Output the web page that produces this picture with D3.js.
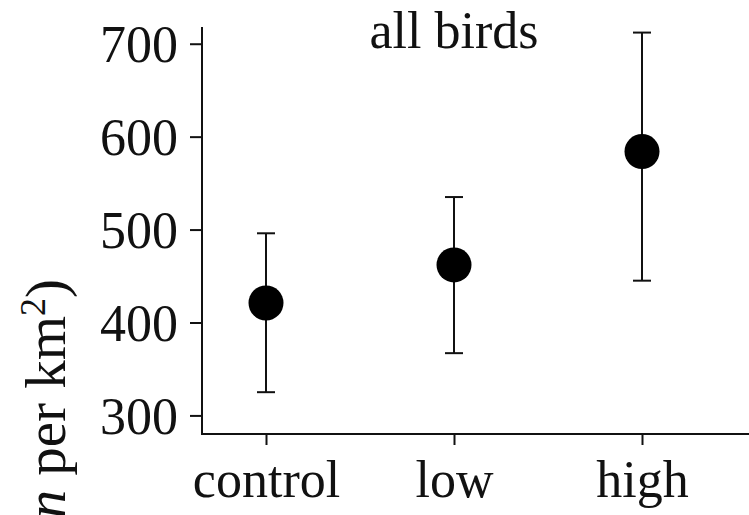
<!DOCTYPE html>
<meta charset="utf-8">
<title>all birds</title>
<style>
  body { margin: 0; background: #fff; }
  svg { display: block; font-family: "Liberation Serif", "Times New Roman", serif; }
</style>
<body>
<script src="https://cdn.jsdelivr.net/npm/d3@7"></script>
<script>
// data
var groups = ["control", "low", "high"];
var means  = [421, 462, 584];
var upper  = [496, 535, 712];
var lower  = [325, 367, 445];
var yTicks = [300, 400, 500, 600, 700];

var width = 749,
    height = 515;

var svg = d3.select("body").append("svg")
    .attr("width", width)
    .attr("height", height);

var x = d3.scalePoint()
    .domain(groups)
    .range([266, 642]);

var y = d3.scaleLinear()
    .domain([280, 718])
    .range([434, 27]);

var axisX0 = 202; // left edge of plot frame

// y axis
var yAxis = svg.append("g")
    .attr("transform", "translate(" + axisX0 + ",0)")
    .call(d3.axisLeft(y).tickValues(yTicks).tickSize(12).tickPadding(12));
yAxis.select(".domain").remove();
yAxis.selectAll(".tick line").style("stroke", "#111").style("stroke-width", 2);
yAxis.selectAll(".tick text")
    .style("font-family", "Liberation Serif")
    .style("font-size", "52px")
    .style("fill", "#111")
    .attr("dy", "0.34em");

svg.append("line")
    .attr("x1", axisX0).attr("x2", axisX0)
    .attr("y1", y.range()[1]).attr("y2", y.range()[0] + 1)
    .style("stroke", "#111").style("stroke-width", 2);

// x axis
var xAxis = svg.append("g")
    .attr("transform", "translate(0," + y.range()[0] + ")")
    .call(d3.axisBottom(x).tickSize(11).tickPadding(17));
xAxis.select(".domain").remove();
xAxis.selectAll(".tick line").style("stroke", "#111").style("stroke-width", 2);
xAxis.selectAll(".tick text")
    .style("font-family", "Liberation Serif")
    .style("font-size", "52px")
    .style("fill", "#111")
    .attr("dy", "0.68em");

svg.append("line")
    .attr("x1", axisX0).attr("x2", width)
    .attr("y1", y.range()[0]).attr("y2", y.range()[0])
    .style("stroke", "#111").style("stroke-width", 2);

// y label (clipped at the left edge as in the figure)
var ylab = svg.append("text")
    .attr("transform", "translate(65,279) rotate(-90)")
    .attr("text-anchor", "end")
    .style("font-size", "57px")
    .style("fill", "#111");
ylab.append("tspan").text("density (");
ylab.append("tspan").style("font-style", "italic").text("n");
ylab.append("tspan").text(" per km");
ylab.append("tspan").attr("baseline-shift", "super").style("font-size", "36px").text("2");
ylab.append("tspan").text(")");

// title
svg.append("text")
    .attr("x", x("low"))
    .attr("y", 48)
    .attr("text-anchor", "middle")
    .style("font-size", "52px")
    .style("fill", "#111")
    .text("all birds");

// error bars
var bars = svg.append("g");
groups.forEach(function(g, i) {
  var cx = x(g);
  bars.append("line")
      .attr("x1", cx).attr("x2", cx)
      .attr("y1", y(upper[i])).attr("y2", y(lower[i]))
      .style("stroke", "#111").style("stroke-width", 2);
  [upper[i], lower[i]].forEach(function(v) {
    bars.append("line")
        .attr("x1", cx - 9).attr("x2", cx + 9)
        .attr("y1", y(v)).attr("y2", y(v))
        .style("stroke", "#111").style("stroke-width", 2);
  });
  bars.append("circle")
      .attr("cx", cx)
      .attr("cy", y(means[i]))
      .attr("r", 17.5)
      .style("fill", "#000");
});
</script>
</body>
